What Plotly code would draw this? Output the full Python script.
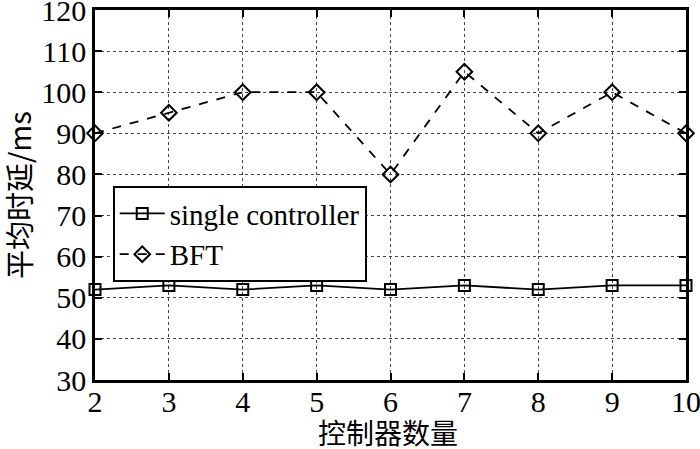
import plotly.graph_objects as go

x_vals = [2, 3, 4, 5, 6, 7, 8, 9, 10]
single_controller = [52, 53, 52, 53, 52, 53, 52, 53, 53]
bft = [90, 95, 100, 100, 80, 105, 90, 100, 90]
y_ticks = [30, 40, 50, 60, 70, 80, 90, 100, 110, 120]

serif = "Liberation Serif, Times New Roman, serif"
cjk = "Noto Sans CJK SC"

fig = go.Figure()
fig.add_trace(go.Scatter(
    x=x_vals, y=single_controller, name="single controller",
    mode="lines+markers",
    line=dict(color="black", width=1.8, dash="solid"),
    marker=dict(symbol="square-open", size=11, color="black", line=dict(width=2)),
    cliponaxis=False,
))
fig.add_trace(go.Scatter(
    x=x_vals, y=bft, name="BFT",
    mode="lines+markers",
    line=dict(color="black", width=1.8, dash="dash"),
    marker=dict(symbol="diamond-open", size=12, color="black", line=dict(width=2)),
    cliponaxis=False,
))

axis_common = dict(
    showline=True, linecolor="black", linewidth=2.5, mirror="ticks",
    ticks="inside", ticklen=7, tickwidth=2, tickcolor="black",
    showgrid=True, gridcolor="#444", griddash="dot", gridwidth=1,
    zeroline=False, automargin=False, ticklabeloverflow="allow",
    tickfont=dict(family=serif, size=30, color="black"),
)

fig.update_layout(
    width=700, height=449,
    margin=dict(l=95, r=14, t=10, b=69),
    paper_bgcolor="white", plot_bgcolor="white",
    xaxis=dict(range=[2, 10], tickvals=x_vals, ticklabelstandoff=-7, **axis_common),
    yaxis=dict(range=[30, 120], tickvals=y_ticks, **axis_common),
    legend=dict(
        x=0.030, y=0.524, xanchor="left", yanchor="top",
        bgcolor="white", bordercolor="black", borderwidth=2,
        font=dict(family=serif, size=29, color="black"),
        tracegroupgap=0, itemwidth=45,
    ),
    showlegend=True,
    annotations=[
        dict(text="控制器数量", xref="paper", yref="paper",
             x=(388 - 95) / 591, y=-(432 - 380) / 370, xanchor="center", yanchor="middle",
             showarrow=False, font=dict(family=cjk, size=28, color="black")),
        dict(text="平均时延/ms", xref="paper", yref="paper",
             x=-(95 - 18) / 591, y=(380 - 195) / 370, xanchor="center", yanchor="middle",
             textangle=-90, showarrow=False, font=dict(family=cjk + ", " + serif, size=29, color="black")),
    ],
)

fig.write_html("out.html", config={"displayModeBar": False},
               post_script="document.body.style.margin='0';document.body.style.padding='0';")
